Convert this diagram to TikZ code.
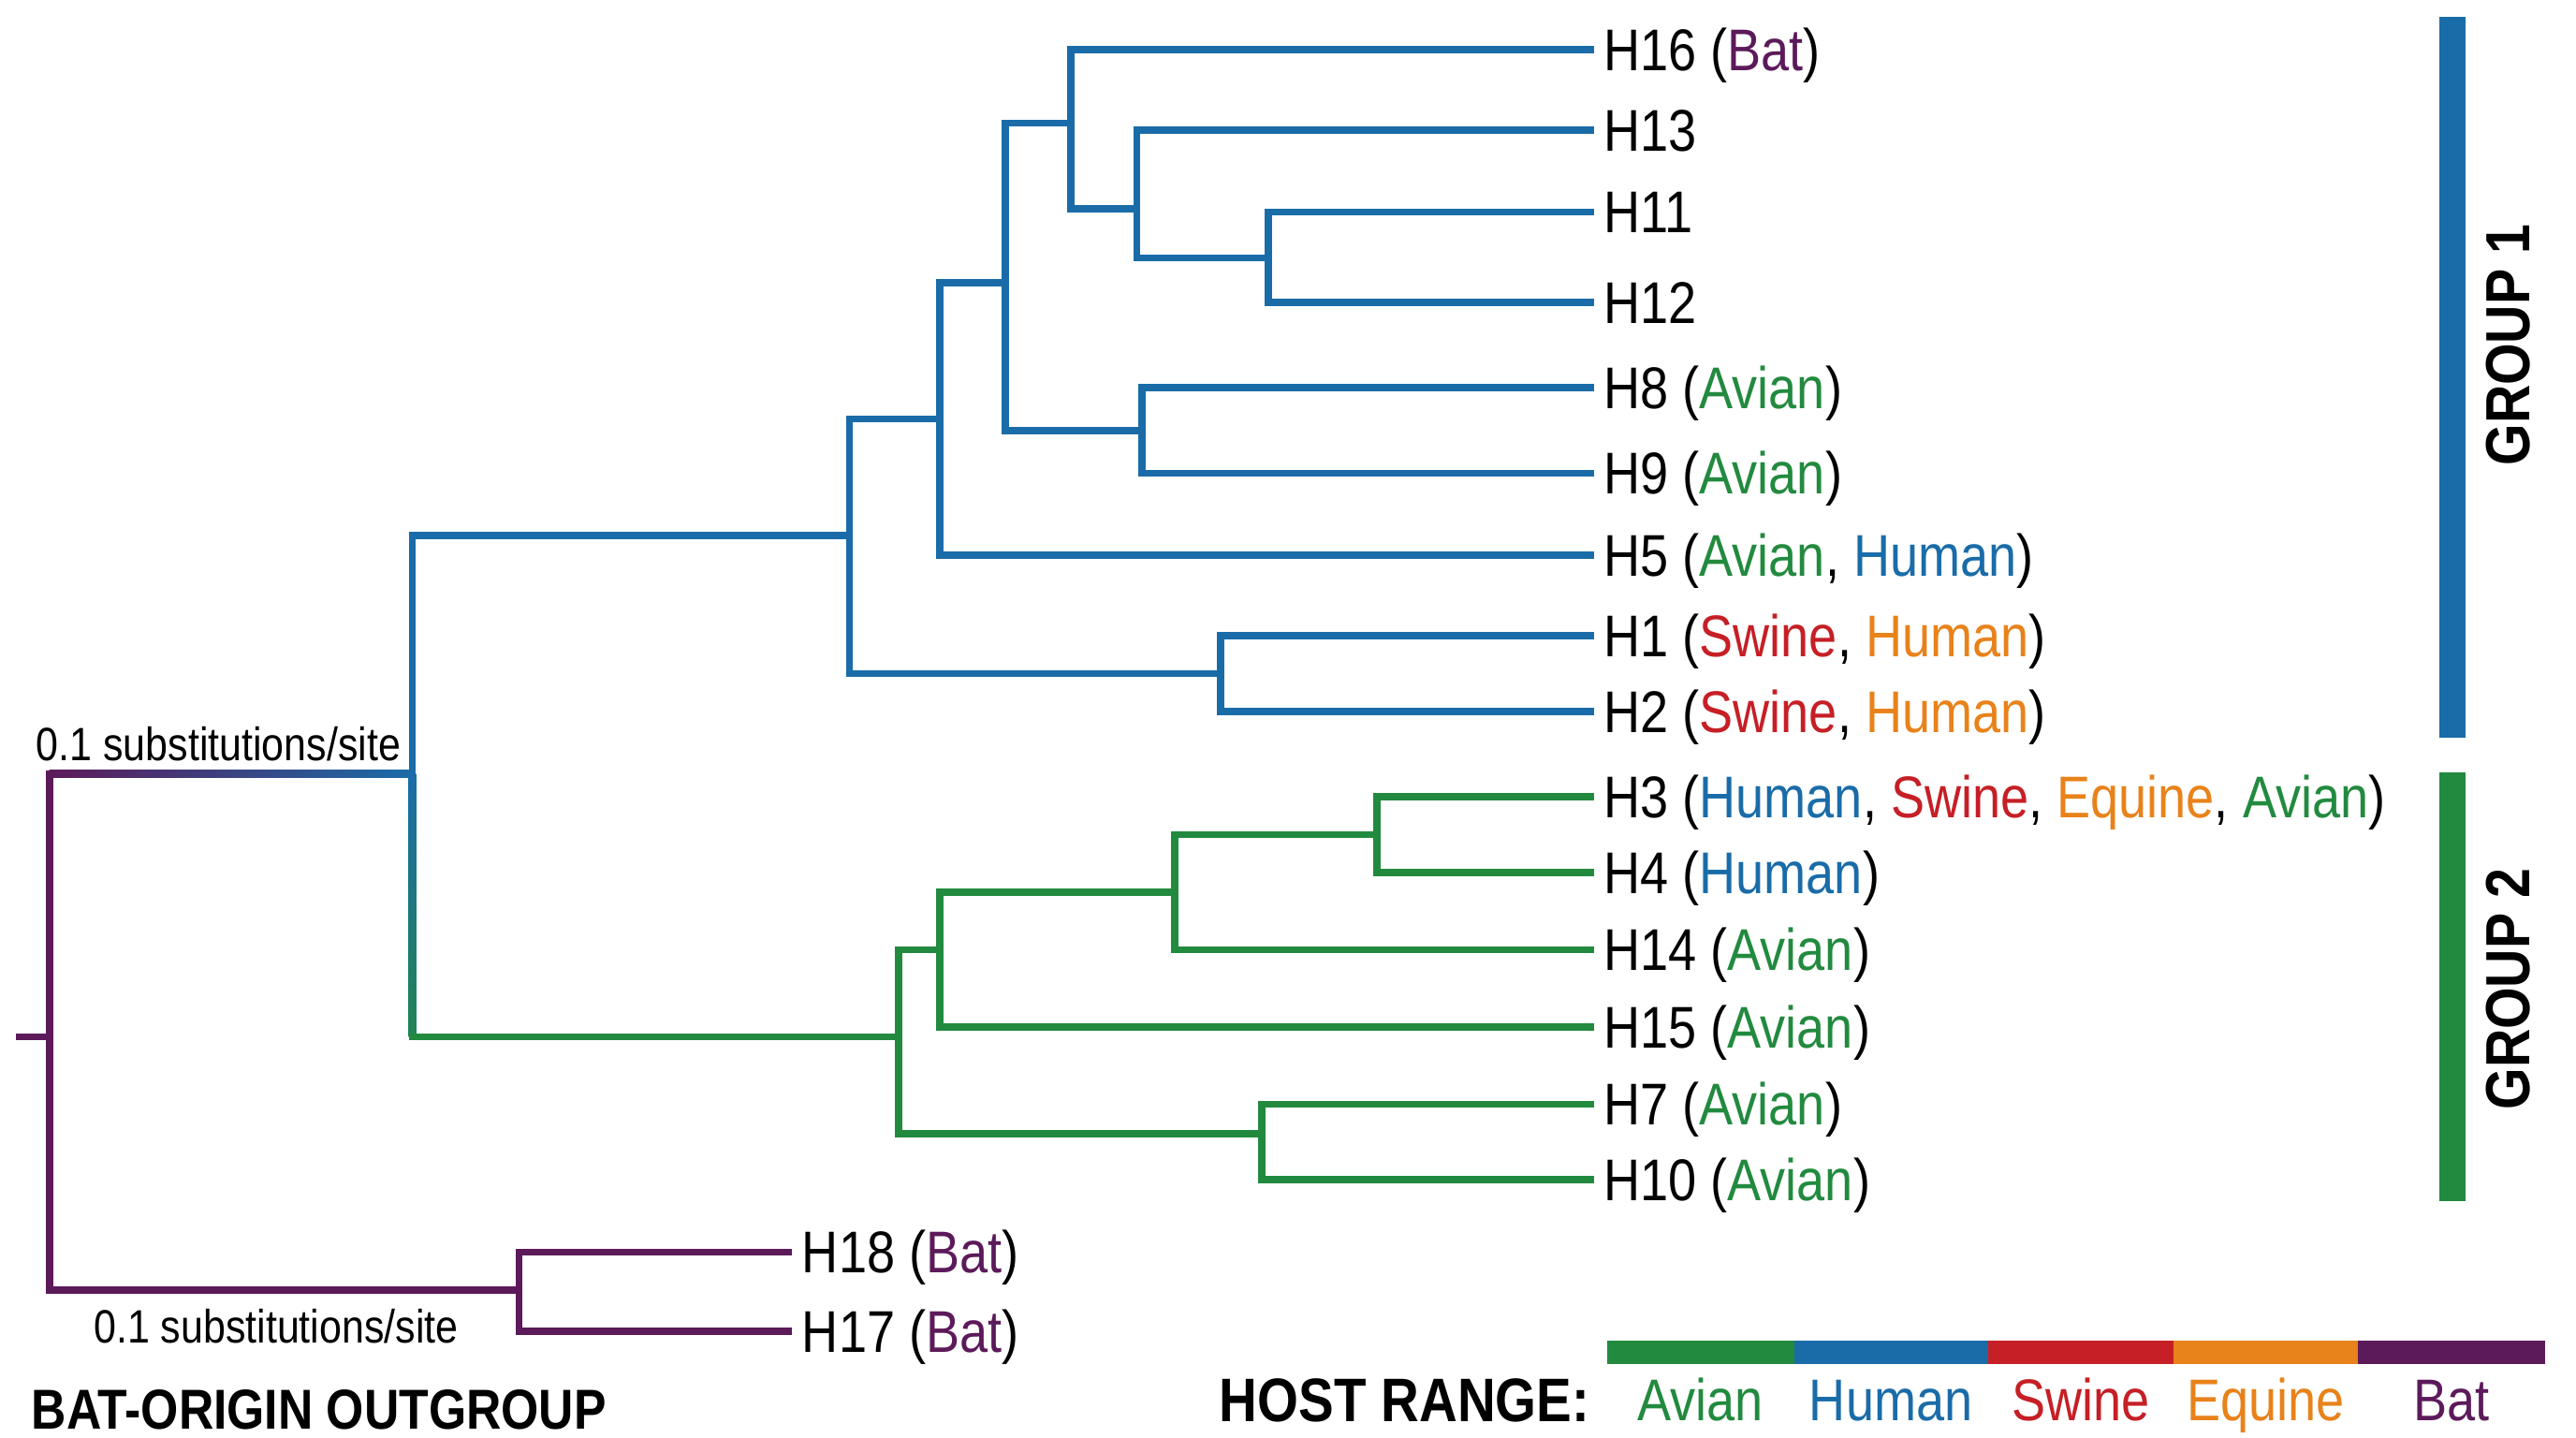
\documentclass[tikz,border=0pt]{standalone}
\usepackage{fontspec}
\setmainfont{Liberation Sans}[FakeStretch=0.86]
\usetikzlibrary{calc, positioning}
\definecolor{cavian}{HTML}{228A3F}
\definecolor{chuman}{HTML}{1A6CA8}
\definecolor{cswine}{HTML}{C61F26}
\definecolor{cequine}{HTML}{E8821A}
\definecolor{cbat}{HTML}{5C1A5A}
\newcommand{\hAvian}{\textcolor{cavian}{Avian}}
\newcommand{\hHuman}{\textcolor{chuman}{Human}}
\newcommand{\hSwine}{\textcolor{cswine}{Swine}}
\newcommand{\hEquine}{\textcolor{cequine}{Equine}}
\newcommand{\hBat}{\textcolor{cbat}{Bat}}
\tikzset{
  branch/.style={draw=#1, line width=2.5pt, line cap=rect},
  branch/.default=chuman,
  leaf/.style={anchor=west, inner xsep=4.5pt, inner ysep=0pt, font=\fontsize{20.4}{24}\selectfont, text height=14.6pt, text depth=0pt},
  scalenote/.style={inner sep=0pt, font=\fontsize{16.2}{19}\selectfont},
  heading/.style={inner sep=0pt, font=\bfseries\fontsize{#1}{24}\selectfont, text height=14.8pt, text depth=0pt},
  legword/.style={inner sep=0pt, font=\fontsize{20.4}{24}\selectfont, text height=14.6pt, text depth=0pt},
}

\begin{document}
\begin{tikzpicture}[x=0.02cm, y=-0.02cm]
  \useasboundingbox (0,0) rectangle (1568,875);
  % leaves
  \foreach \n/\y/\t in {h16/30/{H16 (\hBat)}, h13/79/{H13}, h11/129/{H11}, h12/184/{H12},
      h8/236/{H8 (\hAvian)}, h9/288/{H9 (\hAvian)}, h5/338/{H5 (\hAvian, \hHuman)},
      h1/387/{H1 (\hSwine, \textcolor{cequine}{Human})}, h2/433/{H2 (\hSwine, \textcolor{cequine}{Human})},
      h3/485/{H3 (\hHuman, \hSwine, \hEquine, \hAvian)}, h4/531/{H4 (\hHuman)},
      h14/578/{H14 (\hAvian)}, h15/625/{H15 (\hAvian)}, h7/672/{H7 (\hAvian)}, h10/718/{H10 (\hAvian)}}
    \node[leaf] (\n) at (968,\y) {\t};
  \node[leaf] (h18) at (480,762) {H18 (\hBat)};
  \node[leaf] (h17) at (480,810) {H17 (\hBat)};
  % internal nodes
  \coordinate (n1112) at (772,157);
  \coordinate (n13) at (692,127);
  \coordinate (n16) at (652,75);
  \coordinate (n89) at (695,262);
  \coordinate (nE) at (612,172);
  \coordinate (nF) at (572,255);
  \coordinate (n12) at (743,410);
  \coordinate (nH) at (517,326);
  \coordinate (n34) at (838,508);
  \coordinate (nK) at (715,543);
  \coordinate (nL) at (572,578);
  \coordinate (n710) at (768,690);
  \coordinate (nN) at (547,631);
  \coordinate (nI) at (251,471);
  \coordinate (n1718) at (316,785);
  \coordinate (nroot) at (30,631);
  \coordinate (stub) at (12,631);
  % group 1
  \draw[branch] (h11.west) -| (n1112) |- (h12.west);
  \draw[branch] (h13.west) -| (n13) |- (n1112);
  \draw[branch] (h16.west) -| (n16) |- (n13);
  \draw[branch] (h8.west) -| (n89) |- (h9.west);
  \draw[branch] (n16) -| (nE) |- (n89);
  \draw[branch] (nE) -| (nF) |- (h5.west);
  \draw[branch] (h1.west) -| (n12) |- (h2.west);
  \draw[branch] (nF) -| (nH) |- (n12);
  % group 2
  \draw[branch=cavian] (h3.west) -| (n34) |- (h4.west);
  \draw[branch=cavian] (n34) -| (nK) |- (h14.west);
  \draw[branch=cavian] (nK) -| (nL) |- (h15.west);
  \draw[branch=cavian] (h7.west) -| (n710) |- (h10.west);
  \draw[branch=cavian] (nL) -| (nN) |- (n710);
  % joining the two groups
  \shade[top color=chuman, bottom color=cavian!80!chuman] ($(nI)+(-1.25pt,0)$) rectangle ($(nI |- nN)+(1.25pt,0)$);
  \shade[left color=cbat, right color=chuman] ($(nroot |- nI)+(0,1.25pt)$) rectangle ($(nI)+(0,-1.25pt)$);
  \draw[branch] (nH) -| (nI);
  \draw[branch=cavian] (nI |- nN) -- (nN);
  % bat outgroup
  \draw[branch=cbat] (h18.west) -| (n1718) |- (h17.west);
  \draw[branch=cbat] (n1718) -| (nroot) -- (nroot |- nI);
  \draw[branch=cbat] (stub) -- (nroot);
  \node[scalenote] (sc1) at (133,453) {0.1 substitutions/site};
  \node[scalenote] (sc2) at (168,807) {0.1 substitutions/site};
  \node[heading=19.5, anchor=west] (outg) at (19,857) {BAT-ORIGIN OUTGROUP};
  % group bars
  \fill[chuman] (1485,10) rectangle (1501,449);
  \fill[cavian] (1485,470) rectangle (1501,731);
  \node[heading=21.6, rotate=90] (g1) at (1527,210) {GROUP 1};
  \node[heading=21.6, rotate=90] (g2) at (1527,602) {GROUP 2};
  % host range legend
  \node[heading=21.3, anchor=east] (host) at (968,852) {HOST RANGE:};
  \foreach \c/\w/\a/\b in {cavian/Avian/978/1092, chuman/Human/1092/1210, cswine/Swine/1210/1323,
      cequine/Equine/1323/1435, cbat/Bat/1435/1549} {
    \fill[\c] (\a,816) rectangle (\b,830);
    \node[legword, text=\c] at ({(\a+\b)/2},852) {\w};
  }
\end{tikzpicture}
\end{document}
